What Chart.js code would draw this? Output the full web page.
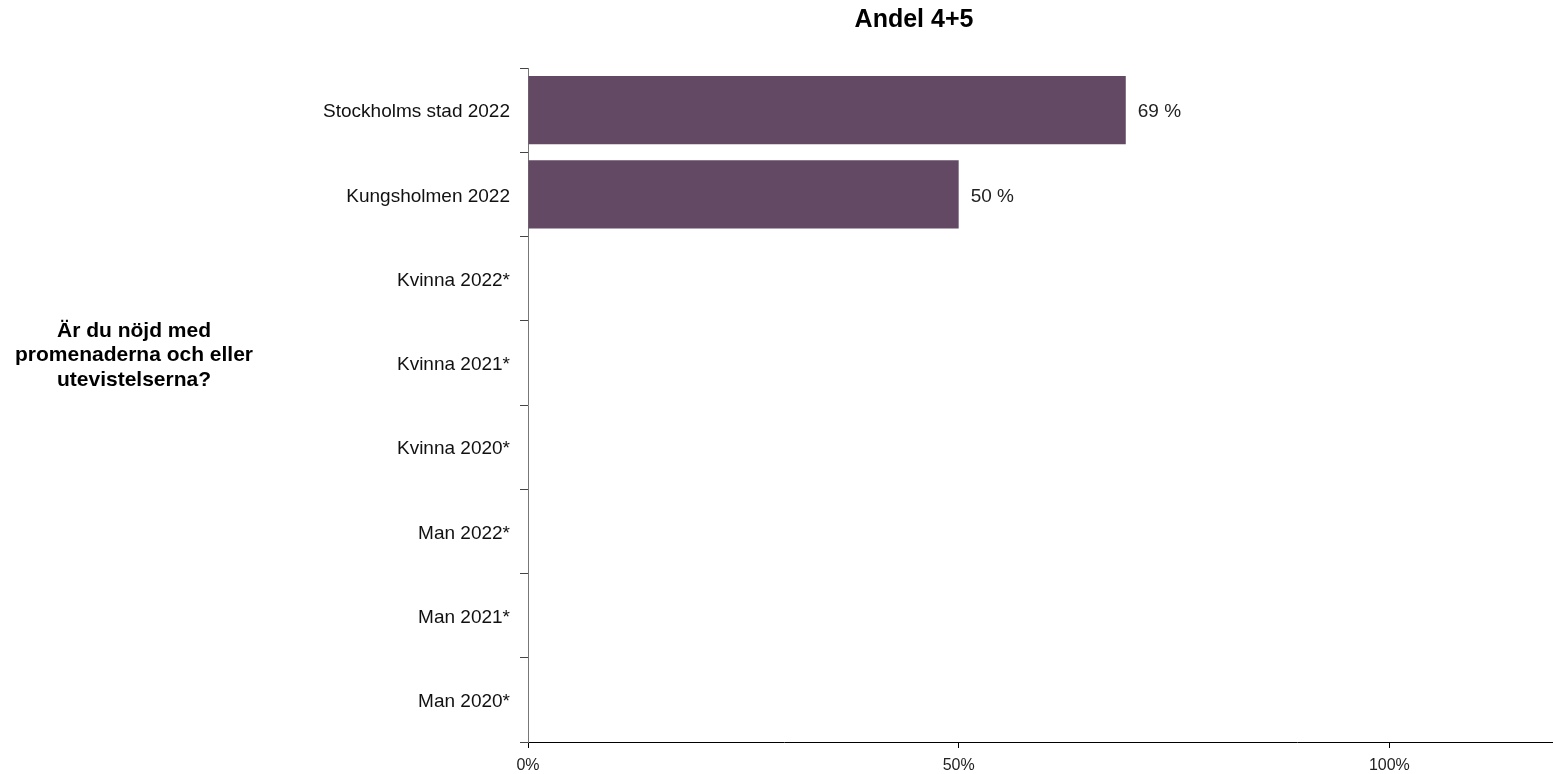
<!DOCTYPE html>
<html><head><meta charset="utf-8">
<script src="https://cdn.jsdelivr.net/npm/chart.js@4/dist/chart.umd.min.js"></script>
<style>html,body{margin:0;padding:0;background:#fff;}#wrap{width:1553px;height:774px;position:relative;}</style>
</head><body><div id="wrap"><canvas id="c" width="1553" height="774"></canvas></div>
<script>
const categories = ["Stockholms stad 2022","Kungsholmen 2022","Kvinna 2022*","Kvinna 2021*","Kvinna 2020*","Man 2022*","Man 2021*","Man 2020*"];
const values = [69.4, 50, null, null, null, null, null, null];
const xTicks = [0, 50, 100];
const chartTitle = "Andel 4+5";
const questionLines = ["Är du nöjd med","promenaderna och eller","utevistelserna?"];
const FONT = "'Liberation Sans', Arial, sans-serif";

const textPlugin = {
  id: 'texts',
  afterDraw(chart) {
    const ctx = chart.ctx;
    ctx.save();
    ctx.fillStyle = '#000';
    ctx.font = 'bold 25px ' + FONT;
    ctx.textAlign = 'center'; ctx.textBaseline = 'middle';
    ctx.fillText(chartTitle, 914, 20);
    ctx.font = 'bold 21px ' + FONT;
    questionLines.forEach((l, i) => ctx.fillText(l, 134, 331 + i * 24.5));
    // value labels
    ctx.font = '19px ' + FONT;
    ctx.fillStyle = '#222';
    ctx.textAlign = 'left';
    const meta = chart.getDatasetMeta(0);
    meta.data.forEach((bar, i) => {
      const v = values[i];
      if (v === null || v === undefined) return;
      ctx.fillText(Math.round(v) + ' %', bar.x + 12, bar.y + 2);
    });
    ctx.restore();
  }
};

new Chart(document.getElementById('c'), {
  type: 'bar',
  data: {
    labels: categories,
    datasets: [{
      data: values,
      backgroundColor: '#634964',
      borderWidth: 0,
      categoryPercentage: 1,
      barPercentage: 0.81
    }]
  },
  options: {
    indexAxis: 'y',
    responsive: false,
    animation: false,
    layout: { padding: { top: 68, right: 0, left: 0, bottom: 0 } },
    plugins: { legend: { display: false }, tooltip: { enabled: false }, title: { display: false } },
    scales: {
      x: {
        min: 0, max: 119,
        afterBuildTicks(axis) { axis.ticks = xTicks.map(v => ({ value: v })); },
        afterFit(axis) { axis.height = 32; },
        border: { display: true, color: '#000', width: 1 },
        grid: { drawOnChartArea: false, drawTicks: true, tickLength: 6, color: '#000' },
        ticks: { color: '#222', font: { family: FONT, size: 16 }, padding: 8, callback: v => v + '%', maxRotation: 0 }
      },
      y: {
        afterFit(axis) { axis.width = 528; },
        border: { display: true, color: '#777', width: 1 },
        grid: { drawOnChartArea: false, drawTicks: true, tickLength: 8, offset: true, color: '#444' },
        ticks: { color: '#111', font: { family: FONT, size: 19 }, padding: 10, labelOffset: 2 }
      }
    }
  },
  plugins: [textPlugin]
});
</script></body></html>
